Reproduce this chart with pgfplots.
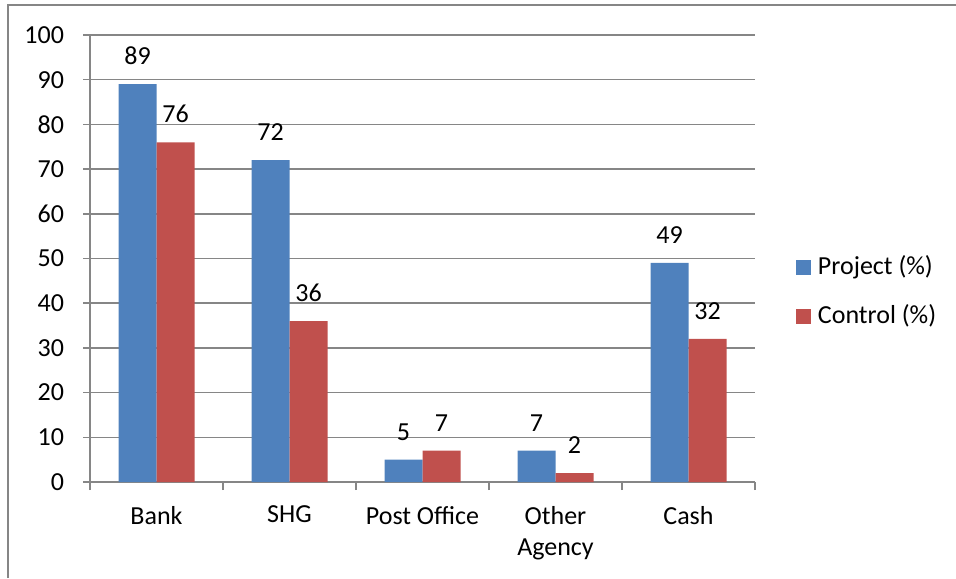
\documentclass[border=0pt]{standalone}
\usepackage{fontspec}
\setmainfont{Carlito}
\usepackage{pgfplots}
\pgfplotsset{compat=1.18}
\definecolor{projblue}{RGB}{79,129,189}
\definecolor{ctrlred}{RGB}{192,80,77}
\definecolor{axgray}{RGB}{134,134,134}
\begin{document}
\begin{tikzpicture}
\useasboundingbox (0,0) rectangle (478pt,289pt);
\draw[axgray, line width=0.8pt] (4pt,0pt) -- (4pt,286.5pt) -- (478pt,286.5pt);
\begin{axis}[
    at={(45pt,48pt)}, anchor=south west,
    scale only axis,
    width=332.5pt, height=223.5pt,
    font=\fontsize{13}{15.9}\selectfont,
    /pgf/number format/assume math mode=true,
    ybar=0pt, bar width=19pt,
    xmin=-0.5, xmax=4.5,
    ymin=0, ymax=100,
    ytick={0,10,...,100},
    xtick={0,1,2,3,4},
    xticklabels={Bank,SHG,Post Office,{Other\\Agency},Cash},
    xticklabel style={align=center, yshift=-5pt},
    yticklabel style={xshift=-6pt},
    minor xtick={-0.5,0.5,1.5,2.5,3.5,4.5},
    x tick style={draw=none},
    minor x tick style={draw=axgray, line width=0.8pt},
    y tick style={draw=axgray, line width=0.8pt},
    tick align=outside,
    major tick length=3.5pt, minor tick length=4pt,
    axis x line*=bottom, axis y line*=left,
    axis line style={draw=axgray, line width=0.8pt, -},
    ymajorgrids, grid style={draw=axgray, line width=0.8pt},
    nodes near coords,
    every node near coord/.append style={anchor=south, inner sep=0pt, yshift=9.5pt, text=black},
    legend style={at={(rel axis cs:1.052,0.425)}, anchor=west, draw=none, fill=none,
        row sep=5.25pt, nodes={inner sep=3.5pt, text height=9.75pt, text depth=2.5pt}},
    legend cell align=left,
    area legend,
    legend image code/.code={\fill[#1] (0pt,-3.75pt) rectangle (7.5pt,3.75pt);},
]
\addplot[fill=projblue, draw=none] coordinates {(0,89) (1,72) (2,5) (3,7) (4,49)};
\addplot[fill=ctrlred, draw=none] coordinates {(0,76) (1,36) (2,7) (3,2) (4,32)};
\legend{Project (\%), Control (\%)}
\end{axis}
\end{tikzpicture}
\end{document}
